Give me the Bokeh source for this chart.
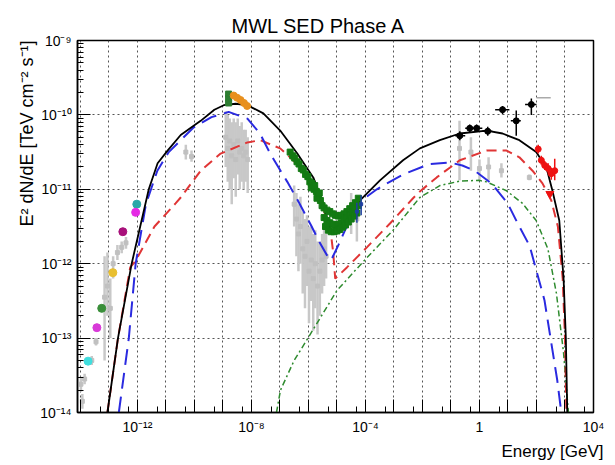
import numpy as np
from bokeh.plotting import figure
from bokeh.models import FixedTicker, CustomJSTickFormatter, Title, Range1d
from bokeh.embed import file_html
from bokeh.resources import INLINE

TITLE = "MWL SED Phase A"
X_LABEL = "Energy [GeV]"
Y_LABEL = "E² dN/dE [TeV cm⁻² s⁻¹]"

# ---- model curves: log10(E/GeV), log10(E^2 dN/dE)
total_logE = [-13.05, -12.68, -12.2, -11.6, -11.29, -10.94, -10.48, -9.78, -9.3, -8.97, -8.55, -8.14,
              -7.58, -6.99, -6.39, -5.83, -5.48, -5.24, -5.13, -4.9, -4.6, -4.19, -3.49, -2.68,
              -2.09, -1.39, -0.69, 0.25, 0.81, 1.40, 1.99, 2.35, 2.56, 2.80, 2.95, 3.03, 3.08]
total_logF = [-14.0, -13.0, -12.0, -11.0, -10.65, -10.48, -10.27, -10.08, -9.93, -9.87, -9.85, -9.87,
              -9.98, -10.21, -10.52, -10.84, -11.19, -11.55, -11.59, -11.5, -11.35, -11.15, -10.88, -10.61,
              -10.45, -10.34, -10.25, -10.21, -10.25, -10.34, -10.5, -10.71, -11.02, -11.42, -12.2, -13.0, -14.0]

blue_logE = [-12.65, -12.3, -12.06, -11.7, -11.3, -10.9, -10.03, -9.4, -8.8, -8.14, -7.7, -7.34, -6.74,
             -6.3, -5.9, -5.6, -5.3, -5.2, -4.95, -4.6, -4.28, -3.6, -3.25, -2.62, -1.74, -1.04, -0.6,
             -0.17, 0.42, 0.99, 1.33, 1.76, 2.28, 2.73, 2.87]
blue_logF = [-14.0, -13.0, -12.0, -11.2, -10.75, -10.5, -10.17, -10.03, -9.96, -10.05, -10.25, -10.52, -10.9,
             -11.2, -11.49, -11.72, -11.92, -11.95, -11.75, -11.45, -11.19, -11.0, -10.92, -10.79, -10.66, -10.64, -10.68,
             -10.75, -10.92, -11.19, -11.45, -11.76, -12.49, -13.57, -14.0]

red_logE = [-13.05, -12.68, -12.25, -12.06, -11.4, -10.66, -10.48, -9.78, -9.08, -8.14, -7.69, -6.99, -6.53,
            -6.04, -5.59, -5.24, -5.13, -5.06, -4.65, -3.95, -3.14, -2.33, -2.09, -1.5, -0.69, 0.25,
            0.95, 1.40, 1.86, 2.21, 2.52, 2.75, 2.92, 3.0, 3.05]
red_logF = [-14.0, -13.0, -12.05, -11.96, -11.5, -11.19, -11.11, -10.75, -10.52, -10.37, -10.34, -10.45, -10.61,
            -10.84, -11.15, -11.51, -11.85, -12.2, -12.05, -11.78, -11.46, -11.12, -11.03, -10.84, -10.61, -10.48,
            -10.48, -10.57, -10.75, -10.92, -11.15, -11.5, -12.2, -13.0, -14.0]

green_logE = [-7.12, -6.98, -6.5, -6.0, -5.0, -3.95, -3.03, -2.09, -1.39, -0.69, 0.0, 0.25, 0.95,
              1.51, 1.99, 2.4, 2.7, 2.95, 3.12]
green_logF = [-14.0, -13.7, -13.3, -12.99, -12.36, -11.92, -11.55, -11.11, -10.95, -10.89, -10.88, -10.9, -11.02,
              -11.19, -11.42, -11.8, -12.4, -13.2, -14.0]

# ---- archival data (grey): log10 E, log10 F, lower, upper
grey_logE = [-13.98, -13.93, -13.85, -13.6, -13.45, -13.15, -13.05, -12.95, -12.85, -12.7, -12.55, -12.4,
             -10.3, -10.1,
             -8.9, -8.83, -8.76, -8.69, -8.62, -8.55, -8.48, -8.41, -8.34, -8.27, -8.2, -8.13,
             -6.5, -6.42, -6.35, -6.28, -6.2, -6.12, -6.05, -5.98, -5.9, -5.83, -5.76, -5.68, -5.6, -5.52, -5.45, -5.38,
             -4.5, -4.3,
             -0.7, -0.3, 0.0, 0.32, 0.77, 1.75]
grey_logF = [-13.62, -13.85, -13.55, -13.3, -13.05, -12.45, -12.3, -12.6, -12.0, -11.85, -11.78, -11.72,
             -10.5, -10.56,
             -10.3, -10.45, -10.35, -10.55, -10.4, -10.6, -10.35, -10.5, -10.45, -10.55, -10.5, -10.6,
             -11.2, -11.4, -11.6, -11.5, -11.8, -11.9, -11.7, -12.1, -11.95, -12.2, -12.0, -12.3, -12.1, -11.95, -11.8, -11.9,
             -11.3, -11.4,
             -10.45, -10.5, -10.72, -10.7, -10.75, -10.84]
grey_lo = [-13.72, -13.95, -13.62, -13.36, -13.1, -13.3, -12.7, -13.0, -12.2, -11.95, -11.86, -11.8,
           -10.6, -10.63,
           -10.7, -10.9, -11.0, -11.2, -10.85, -11.1, -10.8, -11.0, -10.9, -11.0, -10.9, -11.05,
           -11.5, -11.9, -12.1, -12.0, -12.4, -12.6, -12.3, -12.8, -12.5, -12.9, -12.6, -12.95, -12.7, -12.4, -12.3, -12.2,
           -11.6, -11.7,
           -10.88, -10.75, -10.88, -10.88, -10.84, -10.88]
grey_hi = [-13.52, -13.75, -13.48, -13.24, -13.0, -11.9, -11.85, -12.2, -11.9, -11.75, -11.7, -11.64,
           -10.4, -10.48,
           -9.95, -10.0, -10.05, -10.1, -10.05, -10.1, -10.05, -10.15, -10.1, -10.2, -10.2, -10.3,
           -10.95, -11.05, -11.2, -11.1, -11.3, -11.4, -11.35, -11.5, -11.5, -11.6, -11.55, -11.7, -11.7, -11.6, -11.5, -11.6,
           -11.05, -11.2,
           -10.08, -10.3, -10.6, -10.57, -10.65, -10.8]

# ---- simultaneous radio / optical points
lowE_logE = [-12.02, -12.06, -12.51, -12.86, -13.25, -13.42, -13.73]
lowE_logF = [-11.20, -11.31, -11.57, -12.12, -12.60, -12.86, -13.31]
lowE_colors = ["#2aa8a8", "#e52ae5", "#a8107a", "#e8bf30", "#3a8f3a", "#d83ad8", "#40dede"]

uvot_logE = [-8.8, -8.8, -8.8]
uvot_logF = [-9.72, -9.78, -9.84]
opt_logE = [-8.62, -8.5, -8.38, -8.26, -8.15]
opt_logF = [-9.74, -9.77, -9.8, -9.84, -9.88]

# ---- X-ray (green)
xr_logE = [-6.64, -6.55, -6.48, -6.4, -6.33, -6.25, -6.18, -6.1, -6.02, -5.95, -5.88, -5.8, -5.72, -5.65,
           -5.58, -5.52, -5.9, -5.78, -5.7, -5.62,
           -5.45, -5.35, -5.25, -5.15, -5.05, -4.95, -4.85, -4.75, -4.65, -4.55, -4.45, -4.35, -4.25,
           -5.45, -5.35, -5.25, -5.15, -5.05, -4.95, -4.85, -4.75, -4.65, -4.55, -4.45, -4.35, -4.25,
           -5.4, -5.3, -5.2, -5.1, -5.0, -4.9, -4.8, -4.7, -4.6, -4.5, -4.4, -4.3]
xr_logF = [-10.50, -10.55, -10.58, -10.63, -10.66, -10.72, -10.74, -10.80, -10.83, -10.90, -10.92, -11.00, -11.03, -11.10,
           -11.15, -11.22, -10.98, -10.95, -11.12, -11.05,
           -11.25, -11.28, -11.30, -11.33, -11.35, -11.36, -11.35, -11.33, -11.30, -11.26, -11.22, -11.18, -11.12,
           -11.38, -11.42, -11.45, -11.47, -11.48, -11.47, -11.45, -11.42, -11.38, -11.35, -11.30, -11.27, -11.22,
           -11.50, -11.55, -11.57, -11.57, -11.56, -11.54, -11.51, -11.48, -11.44, -11.40, -11.36, -11.32]

# ---- hard X-ray (dark blue)
hx_logE = [-4.3, -4.15]
hx_logF = [-11.3, -11.2]
hx_lo = [-11.45, -11.35]
hx_hi = [-11.18, -11.08]

# ---- Fermi-LAT (black)
lat_logE = [-0.69, -0.34, -0.1, 0.29, 0.81, 1.29, 1.82]
lat_logF = [-10.28, -10.18, -10.18, -10.22, -9.93, -10.08, -9.86]
lat_xlo = [-0.85, -0.5, -0.25, 0.1, 0.55, 1.1, 1.6]
lat_xhi = [-0.5, -0.2, 0.1, 0.45, 1.05, 1.45, 2.0]
lat_ylo = [-10.34, -10.23, -10.23, -10.28, -9.99, -10.28, -10.0]
lat_yhi = [-10.22, -10.13, -10.13, -10.16, -9.88, -9.94, -9.78]
lat_ul_logE = [2.0]
lat_ul_logE2 = [2.5]
lat_ul_logF = [-9.77]

# ---- H.E.S.S. (red)
hess_logE = [2.06, 2.17, 2.29, 2.41, 2.52, 2.64]
hess_logF = [-10.46, -10.61, -10.68, -10.72, -10.79, -10.75]
hess_ylo = [-10.52, -10.67, -10.74, -10.79, -10.87, -10.88]
hess_yhi = [-10.40, -10.55, -10.62, -10.65, -10.71, -10.59]
hess_ul_logE = [2.47]
hess_ul_logF = [-11.06]


def p10(a):
    return [10.0 ** v for v in a]


FONT = "Liberation Sans"

p = figure(width=607, height=462, x_axis_type="log", y_axis_type="log",
           x_range=Range1d(10 ** -14.1, 1e4), y_range=Range1d(1e-14, 1e-9),
           output_backend="svg", toolbar_location=None, title=None,
           min_border_left=77, min_border_right=14, min_border_top=40, min_border_bottom=50)
p.background_fill_color = "white"
p.border_fill_color = "white"
p.outline_line_color = "black"
p.outline_line_width = 1.5

sup_js = """
const sup = {"-":"\u207b","0":"\u2070","1":"\u00b9","2":"\u00b2","3":"\u00b3","4":"\u2074","5":"\u2075","6":"\u2076","7":"\u2077","8":"\u2078","9":"\u2079"};
const e = Math.round(Math.log10(tick));
"""
p.xaxis.ticker = FixedTicker(ticks=[10.0 ** n for n in range(-14, 5)],
                             minor_ticks=[5 * 10.0 ** n for n in range(-15, 4)])
p.xaxis.formatter = CustomJSTickFormatter(code=sup_js + """
if (![-12,-8,-4,0,4].includes(e)) return "";
if (e == 0) return "1";
return "10" + String(e).split("").map(c => sup[c]).join("");
""")
p.yaxis.ticker = FixedTicker(ticks=[10.0 ** n for n in range(-14, -8)],
                             minor_ticks=[k * 10.0 ** n for n in range(-15, -9) for k in range(2, 10)])
p.yaxis.formatter = CustomJSTickFormatter(code=sup_js + """
return "10" + String(e).split("").map(c => sup[c]).join("");
""")

for ax in (p.xaxis, p.yaxis):
    ax.axis_line_color = "black"
    ax.axis_line_width = 1.5
    ax.major_tick_out = 0
    ax.minor_tick_out = 0
    ax.major_tick_line_color = "black"
    ax.minor_tick_line_color = "black"
    ax.major_label_text_font = FONT
    ax.major_label_text_font_size = "14px"
    ax.major_label_text_color = "black"
p.xaxis.major_tick_in = 13
p.xaxis.minor_tick_in = 6
p.yaxis.major_tick_in = 13
p.yaxis.minor_tick_in = 6
p.xaxis.major_label_standoff = 6
p.yaxis.major_label_standoff = 6

for g in (p.xgrid, p.ygrid):
    g.grid_line_color = "#555555"
    g.grid_line_dash = "2 3"
    g.grid_line_width = 1

# grey archival data
p.segment(x0=p10(grey_logE), y0=p10(grey_lo), x1=p10(grey_logE), y1=p10(grey_hi),
          line_color="#c8c8c8", line_width=2.5)
p.scatter(p10(grey_logE), p10(grey_logF), marker="square", size=4, color="#c0c0c0")
p.segment(x0=p10(lat_ul_logE), y0=p10(lat_ul_logF), x1=p10(lat_ul_logE2), y1=p10(lat_ul_logF),
          line_color="#aaaaaa", line_width=1.5)

# models
p.line(p10(green_logE), p10(green_logF), line_color="#2e8b2e", line_width=1.5, line_dash="6 3 2 3")
p.line(p10(red_logE), p10(red_logF), line_color="#e03535", line_width=2, line_dash="10 6")
p.line(p10(blue_logE), p10(blue_logF), line_color="#2a2ae0", line_width=2, line_dash="16 8")
p.line(p10(total_logE), p10(total_logF), line_color="black", line_width=1.8)

# low energy points
p.scatter(p10(lowE_logE), p10(lowE_logF), size=8, color=lowE_colors)
p.scatter(p10(uvot_logE), p10(uvot_logF), marker="square", size=6, color="#2e7d32")
p.scatter(p10(opt_logE), p10(opt_logF), size=7, color="#e8901e")

# X-ray
p.scatter(p10(xr_logE), p10(xr_logF), marker="square", size=6, color="#137a13")
p.segment(x0=p10(hx_logE), y0=p10(hx_lo), x1=p10(hx_logE), y1=p10(hx_hi), line_color="#1f3fa0", line_width=1.5)
p.scatter(p10(hx_logE), p10(hx_logF), marker="square", size=3, color="#1f3fa0")

# Fermi
p.segment(x0=p10(lat_xlo), y0=p10(lat_logF), x1=p10(lat_xhi), y1=p10(lat_logF), line_color="black", line_width=1.5)
p.segment(x0=p10(lat_logE), y0=p10(lat_ylo), x1=p10(lat_logE), y1=p10(lat_yhi), line_color="black", line_width=1.5)
p.scatter(p10(lat_logE), p10(lat_logF), size=6, color="black")

# HESS
p.segment(x0=p10(hess_logE), y0=p10(hess_ylo), x1=p10(hess_logE), y1=p10(hess_yhi), line_color="#ee1111", line_width=1.5)
p.scatter(p10(hess_logE), p10(hess_logF), size=6, color="#ee1111")
p.scatter(p10(hess_ul_logE), p10(hess_ul_logF), marker="inverted_triangle", size=8, color="#ee1111")

# texts
p.add_layout(Title(text=TITLE, align="left", offset=154, standoff=8, text_font=FONT,
                   text_font_size="20px", text_font_style="normal", text_color="black"), "above")
p.add_layout(Title(text=X_LABEL, align="right", offset=-10, standoff=4, text_font=FONT,
                   text_font_size="17px", text_font_style="normal", text_color="black"), "below")
p.add_layout(Title(text=Y_LABEL, align="right", offset=0, standoff=2, text_font=FONT,
                   text_font_size="18px", text_font_style="normal", text_color="black"), "left")

open("out.html", "w").write(file_html(p, INLINE))
